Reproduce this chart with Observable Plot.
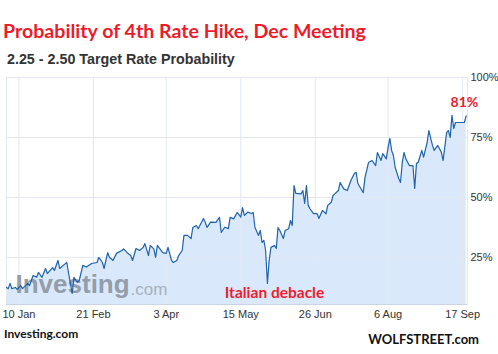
<!DOCTYPE html>
<html>
<head>
<meta charset="utf-8">
<script src="https://cdn.jsdelivr.net/npm/d3@7"></script>
<script src="https://cdn.jsdelivr.net/npm/@observablehq/plot@0.6"></script>
<style>
  body { margin: 0; background: #fff; }
  #wrap { position: relative; width: 498px; height: 354px; overflow: hidden; background: #fff; }
  .t { position: absolute; white-space: nowrap; line-height: 1; }
  #title { left: 3px; top: 18.6px; font: 700 19.6px Lato, sans-serif; color: #ed1c2b; }
  #sub { left: 7px; top: 51px; font: 700 14.3px "Liberation Sans", Arial, sans-serif; color: #333; }
  #src { left: 4px; top: 326.4px; font: 700 12px Lato, sans-serif; color: #111; }
  #brand { right: 19px; top: 331px; font: 700 13px Lato, sans-serif; color: #111; }
  #chart { position: absolute; left: 0; top: 70px; }
</style>
</head>
<body>
<div id="wrap">
  <div class="t" id="title">Probability of 4th Rate Hike, Dec Meeting</div>
  <div class="t" id="sub">2.25 - 2.50 Target Rate Probability</div>
  <div id="chart"></div>
  <div class="t" id="src">Investing.com</div>
  <div class="t" id="brand">WOLFSTREET.com</div>
</div>
<script>
// ---- data ----
const dates = [
  "2018-01-03","2018-01-04","2018-01-05","2018-01-06","2018-01-08","2018-01-09","2018-01-11","2018-01-12",
  "2018-01-15","2018-01-16","2018-01-18","2018-01-20","2018-01-21","2018-01-23","2018-01-25","2018-01-26",
  "2018-01-29","2018-01-30","2018-02-01","2018-02-02","2018-02-04","2018-02-06","2018-02-07","2018-02-09",
  "2018-02-10","2018-02-12","2018-02-13","2018-02-15","2018-02-17","2018-02-20","2018-02-23","2018-02-24",
  "2018-02-26","2018-02-27","2018-03-01","2018-03-02","2018-03-04","2018-03-06","2018-03-09","2018-03-10",
  "2018-03-12","2018-03-14","2018-03-15","2018-03-17","2018-03-19","2018-03-21","2018-03-22","2018-03-24",
  "2018-03-25","2018-03-27","2018-03-28","2018-03-29","2018-04-01","2018-04-03","2018-04-04","2018-04-06",
  "2018-04-07","2018-04-09","2018-04-10","2018-04-12","2018-04-13","2018-04-15","2018-04-17","2018-04-18",
  "2018-04-20","2018-04-21","2018-04-24","2018-04-25","2018-04-26","2018-04-28","2018-05-01","2018-05-03",
  "2018-05-04","2018-05-06","2018-05-08","2018-05-09","2018-05-11","2018-05-13","2018-05-15","2018-05-16",
  "2018-05-17","2018-05-19","2018-05-21","2018-05-22","2018-05-23","2018-05-25","2018-05-26","2018-05-27",
  "2018-05-28","2018-05-29","2018-05-30","2018-05-31","2018-06-01","2018-06-03","2018-06-04","2018-06-05",
  "2018-06-06","2018-06-08","2018-06-09","2018-06-11","2018-06-12","2018-06-13","2018-06-14","2018-06-15",
  "2018-06-18","2018-06-19","2018-06-20","2018-06-21","2018-06-22","2018-06-23","2018-06-25","2018-06-27",
  "2018-06-28","2018-06-30","2018-07-02","2018-07-03","2018-07-05","2018-07-06","2018-07-07","2018-07-09",
  "2018-07-10","2018-07-12","2018-07-14","2018-07-16","2018-07-18","2018-07-19","2018-07-20","2018-07-23",
  "2018-07-24","2018-07-26","2018-07-28","2018-07-30","2018-07-31","2018-08-02","2018-08-03","2018-08-05",
  "2018-08-06","2018-08-07","2018-08-08","2018-08-09","2018-08-10","2018-08-12","2018-08-13","2018-08-14",
  "2018-08-15","2018-08-16","2018-08-18","2018-08-20","2018-08-21","2018-08-22","2018-08-23","2018-08-25",
  "2018-08-26","2018-08-28","2018-08-29","2018-08-31","2018-09-01","2018-09-03","2018-09-05","2018-09-06",
  "2018-09-08","2018-09-09","2018-09-10","2018-09-11","2018-09-12","2018-09-13","2018-09-15","2018-09-17",
  "2018-09-18","2018-09-19"
];
const probability = [
  12.5,12,14.2,12,12.5,11.7,13.3,12,
  14.2,13.3,17.5,16.8,18.75,16.7,20.4,18.3,
  20.8,19.6,23.75,20.4,21.7,22.9,18.3,10,
  16.7,14.6,15.4,21.7,21,22.5,22.9,25,
  23,20.4,27,25.1,23.75,26.7,27.9,28.6,
  27,25.8,23.75,28.75,27.9,29.2,30.8,25.8,
  30,28.6,25,30,27,26.7,29.2,23.75,
  22.9,23.75,25.8,27.9,34.2,34.2,32.9,37.5,
  38.3,37,41.25,39.6,37.5,39.7,39.6,41.7,
  35.4,37.6,37,41.7,41.1,43.75,41.8,45.8,
  42.5,43.9,43.3,43.75,37.5,34.2,36.25,31.25,
  32.1,27.9,14.2,23.75,29.2,30,28.75,37.5,
  36.25,32.9,36.25,37,40.4,38.3,55,51.7,
  51.5,52.9,47.5,55,46.7,45.3,43.3,43.3,
  41.25,44.6,43.2,46.7,48,50.8,51.5,52.9,
  56.25,53.6,52.9,57,60,60.5,55.8,52,
  58.3,64.6,65.4,63.3,68.75,65.4,68.3,66.1,
  70.8,74.6,69.6,67.5,62.5,57.9,56.25,64.6,
  68.75,66.1,63.3,63.3,53.75,64.2,64.7,69.6,
  66.8,72.9,77.9,71.7,69.6,71.7,68.9,65.4,
  77,77.9,75,84.2,78.75,81.25,81.25,81.25,
  81.25,84
];
const xTickDates = ["2018-01-10","2018-02-21","2018-04-03","2018-05-15","2018-06-26","2018-08-06","2018-09-17"];
const xTickLabels = ["10 Jan","21 Feb","3 Apr","15 May","26 Jun","6 Aug","17 Sep"];
const yTicks = [25, 50, 75, 100];
const yTickLabels = ["25%", "50%", "75%", "100%"];
const annotLabels = ["81%", "Italian debacle"];
const annotDates = ["2018-09-18", "2018-06-03"];
const annotValues = [89.4, 10.2];
const annotSizes = [14, 15.5];
const watermark = ["Investing", ".com"];

// ---- build tables ----
const data = dates.map((d, i) => ({date: new Date(d), v: probability[i]}));
const xTicks = xTickDates.map(d => new Date(d));
const annots = annotLabels.map((t, i) => ({text: t, date: new Date(annotDates[i]), v: annotValues[i], size: annotSizes[i]}));

const yMin = 5.4, yMax = 100;

const chart = Plot.plot({
  width: 498,
  height: 254,
  marginTop: 7,
  marginBottom: 20,
  marginLeft: 6,
  marginRight: 31,
  style: {fontFamily: "'Liberation Sans', Arial, sans-serif", fontSize: "11px", color: "#333", background: "transparent"},
  x: {
    type: "utc",
    domain: [new Date("2018-01-03T00:00Z"), new Date("2018-09-19T18:00Z")],
    ticks: xTicks,
    tickFormat: (d) => xTickLabels[xTicks.findIndex(t => +t === +d)],
    tickSize: 0,
    tickPadding: 6,
    label: null
  },
  y: {
    domain: [yMin, yMax],
    ticks: yTicks,
    tickFormat: (d) => yTickLabels[yTicks.indexOf(d)],
    axis: "right",
    tickSize: 0,
    tickPadding: 3,
    label: null
  },
  marks: [
    Plot.areaY(data, {x: "date", y: "v", fill: "#d9e9fb", clip: true}),
    Plot.ruleY(yTicks, {stroke: "#e2e8f2", strokeWidth: 1}),
    Plot.ruleX(xTicks, {stroke: "#e2e8f2", strokeWidth: 1}),
    Plot.frame({stroke: "#e2e8f2"}),
    Plot.ruleY([yMin], {stroke: "#c9d5e6", strokeWidth: 1}),
    Plot.text([watermark[0]], {frameAnchor: "bottom-left", dx: 9, dy: -12, lineAnchor: "bottom", textAnchor: "start",
      fontSize: 26, fontWeight: "bold", fill: "#939dab", fontFamily: "'Liberation Sans', Arial, sans-serif"}),
    Plot.text([watermark[1]], {frameAnchor: "bottom-left", dx: 124, dy: -10, lineAnchor: "bottom", textAnchor: "start",
      fontSize: 17, fill: "#a7b0bd", fontFamily: "'Liberation Sans', Arial, sans-serif"}),
    Plot.lineY(data, {x: "date", y: "v", stroke: "#1f63ab", strokeWidth: 1.2, clip: true}),
    Plot.text(annots, {x: "date", y: "v", text: "text", fill: "#ee1c2e", fontWeight: "bold", fontSize: "size",
      fontFamily: "Lato, sans-serif"})
  ]
});
document.getElementById("chart").appendChild(chart);
</script>
</body>
</html>
